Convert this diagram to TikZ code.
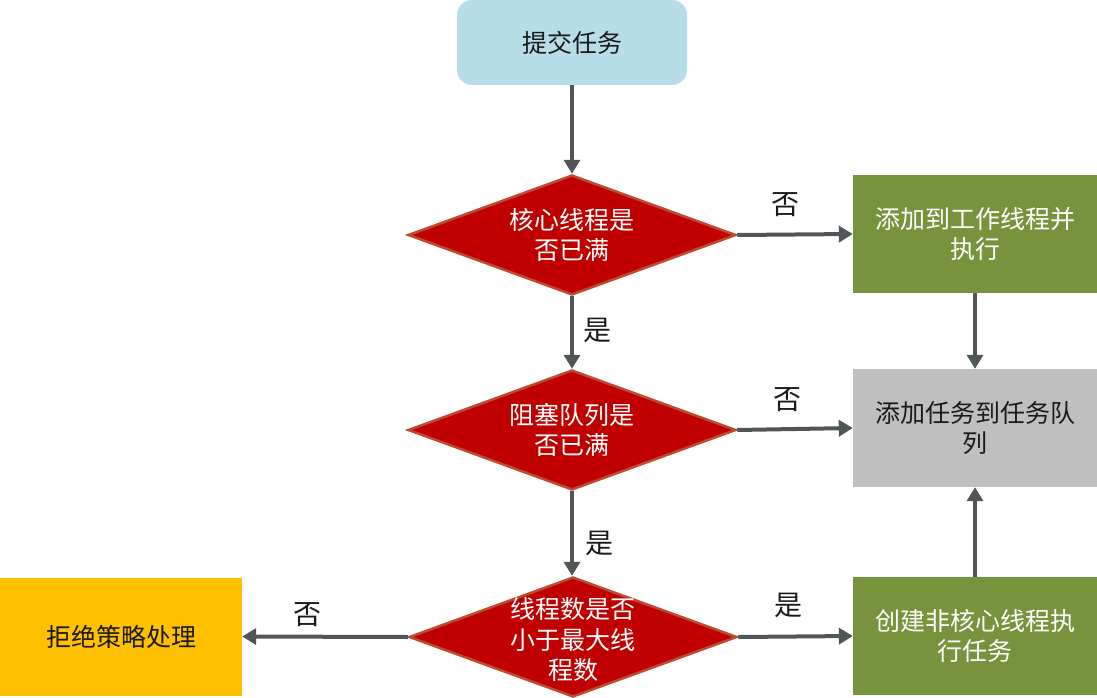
\documentclass[tikz,border=0pt]{standalone}
\usepackage{fontspec}
\newfontfamily\cjk{Noto Sans CJK SC}
\usetikzlibrary{shapes.geometric,arrows.meta}
\definecolor{boxblue}{RGB}{183,221,232}
\definecolor{decred}{RGB}{192,0,0}
\definecolor{decborder}{RGB}{190,75,48}
\definecolor{boxgreen}{RGB}{119,147,60}
\definecolor{boxgrey}{RGB}{191,191,191}
\definecolor{boxorange}{RGB}{255,192,0}
\definecolor{arrowgrey}{RGB}{80,86,88}
\definecolor{textdark}{RGB}{26,26,26}
\begin{document}
\begin{tikzpicture}[x=1pt,y=-1pt,
  every node/.style={font=\cjk\fontsize{25}{30.5}\selectfont},
  box/.style={rectangle, minimum width=244pt, minimum height=118pt, inner sep=0pt, align=center},
  dec/.style={diamond, fill=decred, draw=decborder, line width=2.5pt, minimum width=328pt, minimum height=120pt, inner sep=0pt},
  dectext/.style={text=white, align=center},
  flow/.style={draw=arrowgrey, line width=4pt, -{Triangle[length=14pt,width=16pt]}},
  lbl/.style={text=textdark, font=\cjk\fontsize{28}{30}\selectfont}
]
\useasboundingbox (0,0) rectangle (1097,698);

\node[rectangle, rounded corners=15pt, fill=boxblue, minimum width=230pt, minimum height=85pt, text=textdark] (start) at (572,42.5) {提交任务};

\node[dec, label={[dectext]center:核心线程是\\否已满}] (d1) at (572,235) {};
\node[dec, label={[dectext]center:阻塞队列是\\否已满}] (d2) at (572,430) {};
\node[dec, label={[dectext, yshift=-3pt]center:线程数是否\\小于最大线\\程数}] (d3) at (573,637) {};

\node[box, fill=boxgreen, text=white] (work) at (975,234) {添加到工作线程并\\执行};
\node[box, fill=boxgrey, text=textdark] (queue) at (975,428) {添加任务到任务队\\列};
\node[box, fill=boxgreen, text=white] (nonc) at (975,636) {创建非核心线程执\\行任务};
\node[rectangle, minimum width=242pt, minimum height=118pt, inner sep=0pt, fill=boxorange, text=textdark] (reject) at (121,636.5) {拒绝策略处理};

\draw[flow] (start) -- (d1.north);
\draw[flow] (d1.east) -- (work.west);
\draw[flow] (d1.south) -- (d2.north);
\draw[flow] (work.south) -- (queue.north);
\draw[flow] (d2.east) -- (queue.west);
\draw[flow] (d2.south) -- (d3.north -| d2.south);
\draw[flow] (d3.east) -- (nonc.west);
\draw[flow] (nonc.north) -- (queue.south);
\draw[flow] (d3.west) -- (reject.east);

\node[lbl] (l1) at (785,205) {否};
\node[lbl] (l2) at (597,330) {是};
\node[lbl] (l3) at (787,400) {否};
\node[lbl] (l4) at (599,543) {是};
\node[lbl] (l5) at (788,605) {是};
\node[lbl] (l6) at (307,615) {否};
\end{tikzpicture}
\end{document}
